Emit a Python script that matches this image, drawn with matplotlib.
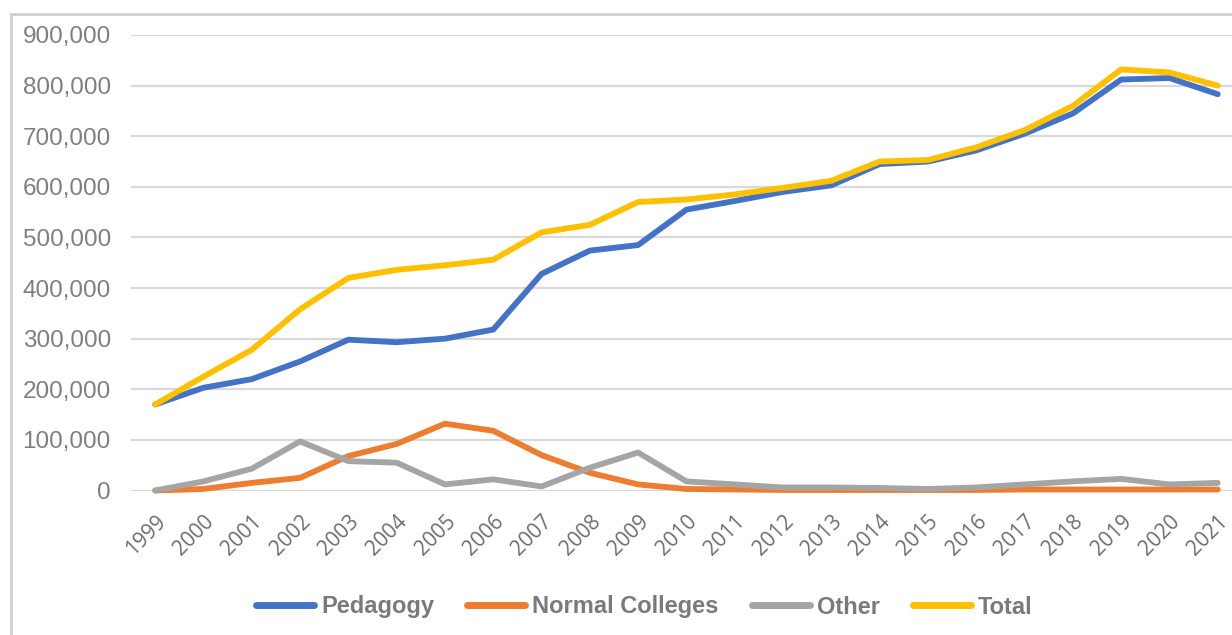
import matplotlib.pyplot as plt
from matplotlib.patches import Rectangle
from matplotlib.ticker import FuncFormatter

years = list(range(1999, 2022))
pedagogy = [170000, 203000, 220000, 255000, 298000, 293000, 300000, 318000,
            428000, 474000, 485000, 555000, 572000, 590000, 603000, 645000,
            650000, 672000, 705000, 745000, 812000, 815000, 783000]
normal_colleges = [0, 3000, 15000, 25000, 68000, 92000, 132000, 118000,
                   70000, 35000, 12000, 3000, 2000, 1000, 1000, 1000,
                   1000, 1000, 2000, 2000, 2000, 2000, 2000]
other = [0, 18000, 43000, 97000, 58000, 55000, 12000, 22000,
         8000, 45000, 75000, 18000, 12000, 6000, 6000, 5000,
         3000, 6000, 12000, 18000, 23000, 12000, 15000]
total = [170000, 225000, 278000, 358000, 420000, 436000, 445000, 456000,
         510000, 525000, 570000, 575000, 585000, 598000, 612000, 650000,
         653000, 678000, 712000, 760000, 832000, 826000, 800000]

series = [("Pedagogy", pedagogy, "#4472C4"),
          ("Normal Colleges", normal_colleges, "#ED7D31"),
          ("Other", other, "#A5A5A5"),
          ("Total", total, "#FFC000")]

W, H = 1232, 635
fig = plt.figure(figsize=(W / 100, H / 100), dpi=100)
fig.patch.set_facecolor("white")

# chart frame
fig.patches.append(Rectangle((11 / W, -0.05), 1.1, (H - 14) / H + 0.05,
                             transform=fig.transFigure, fill=False,
                             edgecolor="#D0D0D0", linewidth=2))

ax = fig.add_axes([131 / W, (H - 490.5) / H, (W - 131) / W, (490.5 - 35) / H])
ax.set_xlim(1998.5, 1998.5 + 1101 / 48.3)
ax.set_ylim(0, 900000)

for name, vals, col in series:
    ax.plot(years, vals, color=col, linewidth=4.2, label=name,
            solid_capstyle="round", clip_on=False, zorder=3)

ax.set_yticks(range(0, 900001, 100000))
ax.yaxis.set_major_formatter(FuncFormatter(lambda v, p: f"{int(v):,}"))
ax.set_xticks(years)
ax.set_xticklabels([str(y) for y in years], rotation=45, ha="right",
                   rotation_mode="anchor")
ax.grid(axis="y", color="#D9D9D9", linewidth=1.6, zorder=0)
for s in ax.spines.values():
    s.set_visible(False)
ax.tick_params(axis="y", length=0, labelsize=17.5, labelcolor="#7F7F7F",
               labelfontfamily="Liberation Sans", pad=14.5)
ax.tick_params(axis="x", length=0, labelsize=15, labelcolor="#6E6E6E",
               labelfontfamily="Open Sans", pad=15)

leg = fig.legend(loc="center", bbox_to_anchor=(0.523, (H - 607) / H), ncol=4,
                 frameon=False, handlelength=2.45, handletextpad=0.3,
                 columnspacing=1.4,
                 prop={"family": "Liberation Sans", "weight": "bold",
                       "size": 17})
for t in leg.get_texts():
    t.set_color("#7A7A7A")
for l in leg.get_lines():
    l.set_linewidth(5)

fig.savefig("out.png", dpi=100)
